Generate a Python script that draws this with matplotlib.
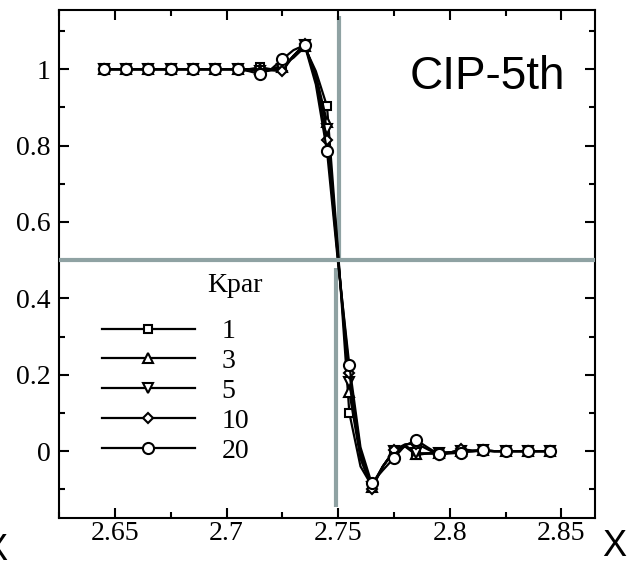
import matplotlib
matplotlib.use("Agg")
import matplotlib.pyplot as plt
import numpy as np

# x grid (lines), markers on every other point
x = np.round(np.arange(2.645, 2.8451, 0.005), 4)

flat_one = [1.0] * 13  # 2.645 .. 2.705

kpar_1 = flat_one + [1.0, 1.005, 1.0, 1.01, 1.03, 1.058, 0.995, 0.903, 0.52, 0.10, -0.04,
                     -0.09, -0.04, 0.0, 0.012, -0.01, -0.006, -0.005, -0.003, 0.0, 0.0,
                     0.0, 0.0, 0.0, 0.0, 0.0, 0.0, 0.0]
kpar_3 = flat_one + [1.0, 1.0, 0.998, 1.005, 1.035, 1.062, 0.985, 0.862, 0.51, 0.155, -0.02,
                     -0.095, -0.04, 0.0, 0.014, -0.008, -0.006, -0.005, -0.003, 0.0, 0.0,
                     0.002, 0.0, 0.0, 0.0, 0.0, 0.0, 0.0]
kpar_5 = flat_one + [1.0, 0.996, 0.998, 1.0, 1.035, 1.064, 0.98, 0.843, 0.5, 0.18, -0.01,
                     -0.095, -0.04, 0.0, 0.015, -0.005, -0.006, -0.006, -0.003, 0.0, 0.0,
                     0.002, 0.0, 0.0, 0.0, 0.0, 0.0, 0.0]
kpar_10 = flat_one + [1.0, 0.993, 0.997, 0.995, 1.035, 1.066, 0.97, 0.815, 0.5, 0.205, 0.0,
                      -0.10, -0.04, 0.003, 0.018, 0.02, 0.005, -0.01, -0.004, 0.005, 0.002,
                      0.002, 0.0, 0.0, 0.0, 0.0, 0.0, 0.0]
kpar_20 = flat_one + [0.995, 0.987, 1.0, 1.026, 1.05, 1.063, 0.96, 0.786, 0.49, 0.225, 0.01,
                      -0.084, -0.05, -0.018, 0.015, 0.029, 0.01, -0.008, -0.006, -0.004, 0.0,
                      0.002, 0.0, 0.0, 0.0, 0.0, 0.0, 0.0]

series = [kpar_1, kpar_3, kpar_5, kpar_10, kpar_20]
labels = ["1", "3", "5", "10", "20"]
markers = ["s", "^", "v", "D", "o"]
msizes = [6, 6.5, 6.5, 5.5, 8]

gray = "#8fa2a3"
serif = "Liberation Serif"
fs = 20

fig = plt.figure(figsize=(6.36, 5.62), dpi=100)
ax = fig.add_axes([0.0928, 0.0783, 0.8427, 0.9039])

# reference lines
ax.vlines(2.7505, 0.5, 1.14, color=gray, lw=3, zorder=1)
ax.vlines(2.749, -0.146, 0.48, color=gray, lw=3, zorder=1)
ax.axhline(0.5, color=gray, lw=3, zorder=3)

for y, lab, m, ms in zip(series, labels, markers, msizes):
    ax.plot(x, y, color="black", lw=1.6, marker=m, ms=ms, mfc="white",
            mec="black", mew=1.5, markevery=2, label=lab, zorder=2)

ax.set_xlim(2.6255, 2.865)
ax.set_ylim(-0.175, 1.155)
ax.set_xticks([2.65, 2.7, 2.75, 2.8, 2.85])
ax.set_xticklabels(["2.65", "2.7", "2.75", "2.8", "2.85"])
ax.set_yticks([0, 0.2, 0.4, 0.6, 0.8, 1.0])
ax.set_yticklabels(["0", "0.2", "0.4", "0.6", "0.8", "1"])
ax.set_xticks(np.arange(2.625, 2.87, 0.025), minor=True)
ax.set_yticks(np.arange(-0.1, 1.15, 0.1), minor=True)

ax.tick_params(which="both", direction="in", top=True, right=True, width=1.5)
ax.tick_params(which="major", length=7.5)
ax.tick_params(which="minor", length=4)
ax.tick_params(axis="x", which="major", pad=2)
ax.tick_params(axis="y", which="major", pad=6)
for lbl in ax.get_xticklabels() + ax.get_yticklabels():
    lbl.set_fontfamily(serif)
    lbl.set_fontsize(fs)
for sp in ax.spines.values():
    sp.set_linewidth(1.5)

leg = ax.legend(loc="upper left", bbox_to_anchor=(0.080, 0.392), frameon=False,
                numpoints=1, handlelength=3.35, handletextpad=0.95, labelspacing=0.16,
                borderpad=0, borderaxespad=0,
                prop={"family": serif, "size": fs})
ax.text(0.328, 0.445, "Kpar", transform=ax.transAxes, ha="center", va="baseline",
        fontfamily=serif, fontsize=fs)

ax.text(0.945, 0.845, "CIP-5th", transform=ax.transAxes, ha="right", va="baseline",
        fontfamily="Liberation Sans", fontsize=33)

fig.text(602 / 636, 1 - 556 / 562, "X", ha="left", va="baseline",
         fontfamily="Liberation Sans", fontsize=26)
fig.text(7 / 636, 1 - 560 / 562, "X", ha="right", va="baseline",
         fontfamily="Liberation Sans", fontsize=26)

fig.savefig("out.png", dpi=100)
